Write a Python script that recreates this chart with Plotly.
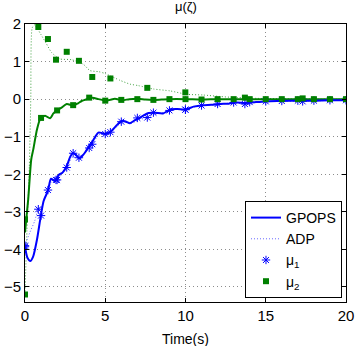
import plotly.graph_objects as go

# ---- data ----
gpops_mu1_t = [0, 0.15, 0.33, 0.5, 0.75, 0.95, 1.16, 1.43, 1.62, 1.87, 2.1, 2.35, 2.6, 2.8, 2.97, 3.15,
               3.38, 3.55, 3.74, 3.95, 4.15, 4.35, 4.57, 4.78, 4.98, 5.2, 5.4, 5.7, 6.02, 6.3, 6.54,
               6.85, 7.17, 7.45, 7.7, 8.1, 8.6, 9.08, 9.5, 9.97, 10.5, 11.07, 11.6, 12.15, 12.7,
               13.2, 13.7, 14.3, 15, 16, 17, 18, 19, 20]
gpops_mu1_y = [-3.93, -4.22, -4.31, -4.2, -3.73, -3.2, -2.71, -2.44, -2.12, -2.18, -2.02, -1.95,
               -1.78, -1.55, -1.44, -1.47, -1.58, -1.52, -1.42, -1.28, -1.16, -1.02, -0.89, -0.9,
               -0.93, -0.9, -0.84, -0.7, -0.58, -0.6, -0.64, -0.56, -0.49, -0.42, -0.37, -0.36,
               -0.38, -0.27, -0.26, -0.28, -0.2, -0.16, -0.15, -0.13, -0.12, -0.09, -0.1, -0.08,
               -0.06, -0.05, -0.04, -0.04, -0.03, -0.03]

adp_mu1_t = [0, 0.3, 0.6, 0.83, 1.0, 1.2, 1.43, 1.65, 1.93, 2.2, 2.6, 2.95, 3.36, 3.7, 4.19, 4.6,
             5.0, 5.32, 5.7, 6.1, 6.6, 7.1, 7.62, 8.1, 8.6, 9.1, 9.6, 9.99, 10.5, 11.1, 12, 13,
             13.7, 14.5, 15.5, 17.3, 18.5, 20]
adp_mu1_y = [-3.9, -3.55, -3.25, -2.93, -2.9, -2.65, -2.42, -2.2, -2.15, -2.05, -1.82, -1.55,
             -1.56, -1.45, -1.2, -0.95, -0.92, -0.88, -0.75, -0.6, -0.65, -0.55, -0.49, -0.4,
             -0.36, -0.3, -0.27, -0.28, -0.21, -0.17, -0.14, -0.1, -0.13, -0.08, -0.06, -0.06,
             -0.04, -0.03]

gpops_mu2_t = [0, 0.1, 0.2, 0.39, 0.52, 0.75, 0.98, 1.25, 1.56, 1.77, 2.0, 2.3, 2.6, 3.0, 3.3,
               3.53, 3.8, 4.05, 4.3, 4.57, 4.8, 5.05, 5.3, 5.6, 6.06, 6.5, 7.06, 7.5, 8.0, 8.5,
               9.03, 10, 11, 12, 13, 14, 15, 16, 17, 18, 19, 20]
gpops_mu2_y = [-3.55, -3.1, -2.67, -1.6, -1.33, -0.8, -0.5, -0.44, -0.51, -0.38, -0.3, -0.22,
               -0.13, -0.17, -0.11, -0.05, -0.01, 0.04, 0.03, 0.0, -0.02, -0.04, -0.02, 0.01,
               -0.03, 0.0, 0.01, -0.01, -0.02, -0.01, 0.0, 0.0, -0.01, 0.0, 0.0, 0.0, 0.0, 0.0,
               0.0, 0.0, 0.0, 0.0]

adp_mu2_t = [0, 0.12, 0.27, 0.36, 0.45, 0.6, 0.98, 1.3, 1.66, 2.18, 2.9, 3.63, 4.05, 4.6, 5.0,
             5.92, 6.54, 7.06, 8.0, 9.03, 10.07, 11.1, 12.15, 13.2, 14.5, 16, 18, 20]
adp_mu2_y = [-5.2, -3.5, -1.8, 0.0, 1.9, 1.98, 1.73, 1.5, 1.24, 1.07, 1.05, 0.93, 0.76, 0.73,
             0.68, 0.5, 0.4, 0.36, 0.27, 0.22, 0.13, 0.11, 0.07, 0.04, 0.02, 0.01, 0.0, 0.0]

# markers
gpops_mark_t = list(range(0, 21))
gpops_mark_mu1 = [-3.93, -3.1, -2.15, -1.44, -1.3, -0.93, -0.6, -0.5, -0.36, -0.3, -0.28, -0.17,
                  -0.13, -0.09, -0.08, -0.06, -0.05, -0.04, -0.04, -0.03, -0.03]
gpops_mark_mu2 = [-3.2, -0.5, -0.3, -0.16, 0.04, -0.04, -0.02, 0.0, -0.02, 0.0, 0.0, -0.01, 0.0,
                  0.0, 0.0, 0.0, 0.0, 0.0, 0.0, 0.0, 0.0]
adp_mark_t = [0, 0.83, 1.43, 1.93, 2.6, 3.36, 4.19, 5.32, 7.62, 9.99, 13.7, 17.3]
adp_mark_mu1 = [-3.9, -2.93, -2.42, -2.15, -1.82, -1.56, -1.2, -0.88, -0.49, -0.28, -0.13, -0.06]
adp_mark_mu2 = [-5.2, 1.92, 1.6, 1.05, 1.26, 1.02, 0.59, 0.55, 0.30, 0.18, 0.04, 0.02]

x_ticks = [0, 5, 10, 15, 20]
y_ticks = [-5, -4, -3, -2, -1, 0, 1, 2]

BLUE = "rgb(0,0,255)"
GREEN = "rgb(0,128,0)"
FONT = "Liberation Sans, Arial, sans-serif"

fig = go.Figure()
fig.add_trace(go.Scatter(x=adp_mu2_t, y=adp_mu2_y, mode="lines", showlegend=False,
                         line=dict(color="rgba(0,128,0,0.75)", width=1, dash="1px,2px", shape="spline", smoothing=0.6)))
fig.add_trace(go.Scatter(x=adp_mu1_t, y=adp_mu1_y, mode="lines", name="ADP",
                         line=dict(color="rgba(0,0,255,0.6)", width=1, dash="1px,2px", shape="spline", smoothing=0.6)))
fig.add_trace(go.Scatter(x=gpops_mu2_t, y=gpops_mu2_y, mode="lines", showlegend=False,
                         line=dict(color=GREEN, width=2, shape="spline", smoothing=0.7)))
fig.add_trace(go.Scatter(x=gpops_mu1_t, y=gpops_mu1_y, mode="lines", name="GPOPS",
                         line=dict(color=BLUE, width=2, shape="spline", smoothing=0.7)))
fig.add_trace(go.Scatter(x=gpops_mark_t + adp_mark_t, y=gpops_mark_mu1 + adp_mark_mu1, mode="markers",
                         name="μ<sub>1</sub>",
                         marker=dict(symbol="asterisk-open", size=7, color=BLUE, line=dict(color=BLUE, width=1))))
fig.add_trace(go.Scatter(x=gpops_mark_t + adp_mark_t, y=gpops_mark_mu2 + adp_mark_mu2, mode="markers",
                         name="μ<sub>2</sub>",
                         marker=dict(symbol="square", size=6, color=GREEN)))

# legend order: GPOPS, ADP, mu1, mu2
fig.data[3].legendrank = 1
fig.data[1].legendrank = 2
fig.data[4].legendrank = 3
fig.data[5].legendrank = 4

axis_common = dict(showline=True, linecolor="black", linewidth=1, mirror="ticks",
                   ticks="inside", ticklen=4, tickcolor="black", automargin=False,
                   showgrid=True, gridcolor="rgb(140,140,140)", griddash="1px,3px", gridwidth=1,
                   zeroline=False, tickfont=dict(size=15, color="black", family=FONT))

fig.update_layout(
    width=356, height=346,
    margin=dict(l=25, r=10, t=24, b=44),
    paper_bgcolor="white", plot_bgcolor="white",
    font=dict(family=FONT, color="black"),
    xaxis=dict(range=[0, 20], tickvals=x_ticks, **axis_common),
    yaxis=dict(range=[-5.4, 2], tickvals=y_ticks, **axis_common),
    legend=dict(x=0.9875, y=0.0144, xanchor="right", yanchor="bottom",
                bgcolor="white", bordercolor="black", borderwidth=1,
                font=dict(size=14, color="black", family=FONT),
                itemwidth=30, tracegroupgap=0),
    showlegend=True,
    annotations=[
        dict(text="μ(ζ)", xref="paper", yref="paper", x=0.5, y=1, yanchor="bottom",
             yshift=8, showarrow=False, font=dict(size=13, color="black", family=FONT)),
        dict(text="Time(s)", xref="paper", yref="paper", x=0.5, y=0, yanchor="top",
             yshift=-27, showarrow=False, font=dict(size=14, color="black", family=FONT)),
    ],
)

fig.write_html("out.html", config={"displayModeBar": False},
               post_script="document.body.style.margin='0';document.body.style.padding='0';"
                           "document.documentElement.style.overflow='hidden';")
